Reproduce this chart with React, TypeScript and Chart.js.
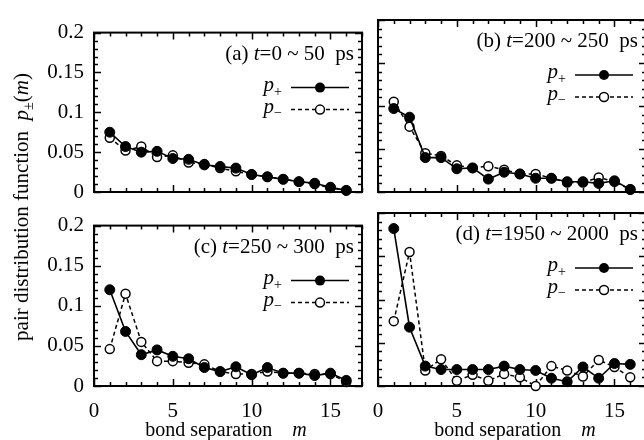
import React, { useEffect, useRef } from "react";
import { Chart, registerables } from "chart.js";
Chart.register(...registerables);

// ---------- data ----------
const BOND_M = [1, 2, 3, 4, 5, 6, 7, 8, 9, 10, 11, 12, 13, 14, 15, 16];

const A_PLUS = [0.075, 0.057, 0.050, 0.051, 0.042, 0.041, 0.034, 0.032, 0.030, 0.022, 0.019, 0.016, 0.013, 0.011, 0.006, 0.002];
const A_MINUS = [0.068, 0.052, 0.057, 0.044, 0.046, 0.037, 0.035, 0.030, 0.026, 0.022, 0.019, 0.016, 0.013, 0.010, 0.005, 0.002];
const B_PLUS = [0.097, 0.087, 0.040, 0.040, 0.027, 0.028, 0.015, 0.023, 0.021, 0.016, 0.016, 0.012, 0.012, 0.010, 0.013, 0.003];
const B_MINUS = [0.105, 0.076, 0.045, 0.042, 0.031, 0.028, 0.030, 0.026, 0.021, 0.021, 0.016, 0.011, 0.011, 0.017, 0.012, 0.003];
const C_PLUS = [0.120, 0.068, 0.039, 0.045, 0.037, 0.034, 0.023, 0.018, 0.024, 0.014, 0.023, 0.016, 0.016, 0.013, 0.016, 0.007];
const C_MINUS = [0.046, 0.115, 0.055, 0.031, 0.031, 0.029, 0.027, 0.018, 0.015, 0.015, 0.018, 0.016, 0.016, 0.015, 0.015, 0.005];
const D_PLUS = [0.182, 0.068, 0.023, 0.019, 0.019, 0.019, 0.019, 0.023, 0.019, 0.018, 0.009, 0.005, 0.022, 0.009, 0.026, 0.025];
const D_MINUS = [0.075, 0.155, 0.018, 0.031, 0.006, 0.013, 0.006, 0.014, 0.010, 0.000, 0.023, 0.018, 0.011, 0.030, 0.022, 0.010];

const X_TICKS = [0, 5, 10, 15];
const X_TICK_LABELS = ["0", "5", "10", "15"];
const Y_TICKS = [0, 0.05, 0.1, 0.15, 0.2];
const Y_TICK_LABELS = ["0", "0.05", "0.1", "0.15", "0.2"];
const X_MIN = 0;
const X_MAX = 17;
const Y_MIN = 0;
const Y_MAX = 0.2;

const PANEL_TAGS = ["(a)", "(b)", "(c)", "(d)"];
const PANEL_RANGES = ["=0 ~ 50", "=200 ~ 250", "=250 ~ 300", "=1950 ~ 2000"];
const PANEL_UNIT = "ps";
const X_TITLE = "bond separation";
const Y_TITLE = "pair distribution function";

// ---------- layout / style ----------
const FONT = '"Liberation Serif", "Times New Roman", serif';
const FS = 21;
const PADL = 70, PADR = 10, PADT = 10, PADB = 35;

const PANELS = [
  { l: 94, t: 20, r: 362, b: 192, plus: A_PLUS, minus: A_MINUS, showX: false, showY: true },
  { l: 378, t: 20, r: 646, b: 192, plus: B_PLUS, minus: B_MINUS, showX: false, showY: false },
  { l: 94, t: 213, r: 362, b: 386, plus: C_PLUS, minus: C_MINUS, showX: true, showY: true },
  { l: 378, t: 213, r: 646, b: 386, plus: D_PLUS, minus: D_MINUS, showX: true, showY: false },
];

function drawSegs(ctx: CanvasRenderingContext2D, segs: { t: string; f: string; dy?: number }[], xRight: number, y: number) {
  let total = 0;
  for (const s of segs) { ctx.font = s.f; total += ctx.measureText(s.t).width; }
  let x = xRight - total;
  ctx.textAlign = "left";
  ctx.textBaseline = "alphabetic";
  for (const s of segs) {
    ctx.font = s.f;
    ctx.fillText(s.t, x, y + (s.dy || 0));
    x += ctx.measureText(s.t).width;
  }
}

const framePlugin = {
  id: "frame",
  beforeDatasetsDraw(chart: any) {
    const { ctx, chartArea, scales } = chart;
    const { left, right, top, bottom } = chartArea;
    const x = scales.x, y = scales.y;
    ctx.save();
    ctx.strokeStyle = "#000";
    ctx.lineWidth = 1.5;
    ctx.beginPath();
    for (let v = X_MIN; v <= X_MAX; v++) {
      const px = Math.round(x.getPixelForValue(v)) + 0.5;
      const len = v % 5 === 0 ? 7 : 4;
      ctx.moveTo(px, bottom); ctx.lineTo(px, bottom - len);
      ctx.moveTo(px, top); ctx.lineTo(px, top + len);
    }
    for (let k = 0; k <= 20; k++) {
      const py = Math.round(y.getPixelForValue(k * 0.01)) + 0.5;
      const len = k % 5 === 0 ? 7 : 4;
      ctx.moveTo(left, py); ctx.lineTo(left + len, py);
      ctx.moveTo(right, py); ctx.lineTo(right - len, py);
    }
    ctx.stroke();
    ctx.lineWidth = 2;
    ctx.strokeRect(left, top, right - left, bottom - top);
    ctx.restore();
  },
  afterDraw(chart: any) {
    const { ctx, chartArea } = chart;
    const { right, top } = chartArea;
    const o = chart.options.plugins.frame;
    ctx.save();
    ctx.fillStyle = "#000";
    const norm = `${FS}px ${FONT}`;
    const ital = `italic ${FS}px ${FONT}`;
    drawSegs(ctx, [
      { t: o.tag + " ", f: norm },
      { t: "t", f: ital },
      { t: o.range + "  " + PANEL_UNIT, f: norm },
    ], right - 8, top + 27);

    // legend
    const yP = top + 55, yM = top + 77;
    const x0 = right - 71, x1 = right - 13, xm = right - 42;
    ctx.strokeStyle = "#000";
    ctx.lineWidth = 1.5;
    ctx.beginPath(); ctx.moveTo(x0, yP); ctx.lineTo(x1, yP); ctx.stroke();
    ctx.setLineDash([4, 3]);
    ctx.beginPath(); ctx.moveTo(x0, yM); ctx.lineTo(x1, yM); ctx.stroke();
    ctx.setLineDash([]);
    ctx.beginPath(); ctx.arc(xm, yP, 5, 0, Math.PI * 2); ctx.fill();
    ctx.beginPath(); ctx.arc(xm, yM, 4.5, 0, Math.PI * 2);
    ctx.fillStyle = "#fff"; ctx.fill(); ctx.stroke();
    ctx.fillStyle = "#000";
    const sub = `${Math.round(FS * 0.65)}px ${FONT}`;
    drawSegs(ctx, [{ t: "p", f: ital }, { t: "+", f: sub, dy: 5 }], right - 80, yP + 3);
    drawSegs(ctx, [{ t: "p", f: ital }, { t: "\u2212", f: sub, dy: 4 }], right - 80, yM + 3);
    ctx.restore();
  },
};

function Panel({ idx }: { idx: number }) {
  const ref = useRef<HTMLCanvasElement>(null);
  const p = PANELS[idx];
  const W = p.r - p.l + PADL + PADR;
  const H = p.b - p.t + PADT + PADB;
  useEffect(() => {
    const tickFont = { family: FONT, size: FS };
    const chart = new Chart(ref.current as HTMLCanvasElement, {
      type: "line",
      data: {
        datasets: [
          {
            label: "p+",
            data: BOND_M.map((m, i) => ({ x: m, y: p.plus[i] })),
            borderColor: "#000",
            backgroundColor: "#000",
            borderWidth: 1.6,
            pointRadius: 5,
            pointBackgroundColor: "#000",
            pointBorderColor: "#000",
            pointBorderWidth: 1,
            tension: 0,
            clip: false as any,
          },
          {
            label: "p-",
            data: BOND_M.map((m, i) => ({ x: m, y: p.minus[i] })),
            borderColor: "#000",
            backgroundColor: "#fff",
            borderWidth: 1.5,
            borderDash: [4, 3],
            pointRadius: 4.5,
            pointBackgroundColor: "#fff",
            pointBorderColor: "#000",
            pointBorderWidth: 1.5,
            tension: 0,
            clip: false as any,
          },
        ],
      },
      options: {
        responsive: false,
        animation: false,
        devicePixelRatio: 1,
        layout: { padding: { left: 0, right: PADR, top: PADT, bottom: 0 } },
        plugins: {
          legend: { display: false },
          tooltip: { enabled: false },
          frame: { tag: PANEL_TAGS[idx], range: PANEL_RANGES[idx] },
        } as any,
        scales: {
          x: {
            type: "linear",
            min: X_MIN,
            max: X_MAX,
            grid: { display: false, drawTicks: false },
            border: { display: false },
            ticks: {
              display: p.showX,
              padding: 13,
              color: "#000",
              font: tickFont,
              maxRotation: 0,
              callback: (_v: any, i: number) => X_TICK_LABELS[i],
            },
            afterBuildTicks: (s: any) => { s.ticks = X_TICKS.map((v) => ({ value: v })); },
            afterFit: (s: any) => { s.height = PADB; },
          },
          y: {
            type: "linear",
            min: Y_MIN,
            max: Y_MAX,
            grid: { display: false, drawTicks: false },
            border: { display: false },
            ticks: {
              display: p.showY,
              padding: 10,
              color: "#000",
              font: tickFont,
              callback: (_v: any, i: number) => Y_TICK_LABELS[i],
            },
            afterBuildTicks: (s: any) => { s.ticks = Y_TICKS.map((v) => ({ value: v })); },
            afterFit: (s: any) => { s.width = PADL; },
          },
        },
      } as any,
      plugins: [framePlugin as any],
    });
    return () => chart.destroy();
  }, []);
  return (
    <canvas
      ref={ref}
      width={W}
      height={H}
      style={{ position: "absolute", left: p.l - PADL, top: p.t - PADT, width: W, height: H, display: "block" }}
    />
  );
}

export default function App() {
  const xTitle = (cx: number) => (
    <div
      style={{
        position: "absolute", left: cx - 120, top: 418, width: 240, height: 22,
        lineHeight: "22px", textAlign: "center", whiteSpace: "nowrap", fontSize: 20,
      }}
    >
      {X_TITLE}&nbsp;&nbsp;&nbsp;&nbsp;<i>m</i>
    </div>
  );
  return (
    <div
      style={{
        position: "fixed", left: 0, top: 0, width: 644, height: 440, overflow: "hidden",
        background: "#fff", fontFamily: FONT, color: "#000",
      }}
    >
      {PANELS.map((_, i) => <Panel key={i} idx={i} />)}
      {xTitle(226)}
      {xTitle(515)}
      <div
        style={{
          position: "absolute", left: 21 - 150, top: 207 - 12, width: 300, height: 24,
          lineHeight: "24px", textAlign: "center", whiteSpace: "nowrap", fontSize: FS,
          transform: "rotate(-90deg)",
        }}
      >
        {Y_TITLE}&nbsp;&nbsp;<i>p</i>
        <span style={{ fontSize: 14, position: "relative", top: 5 }}>±</span>(<i>m</i>)
      </div>
    </div>
  );
}
